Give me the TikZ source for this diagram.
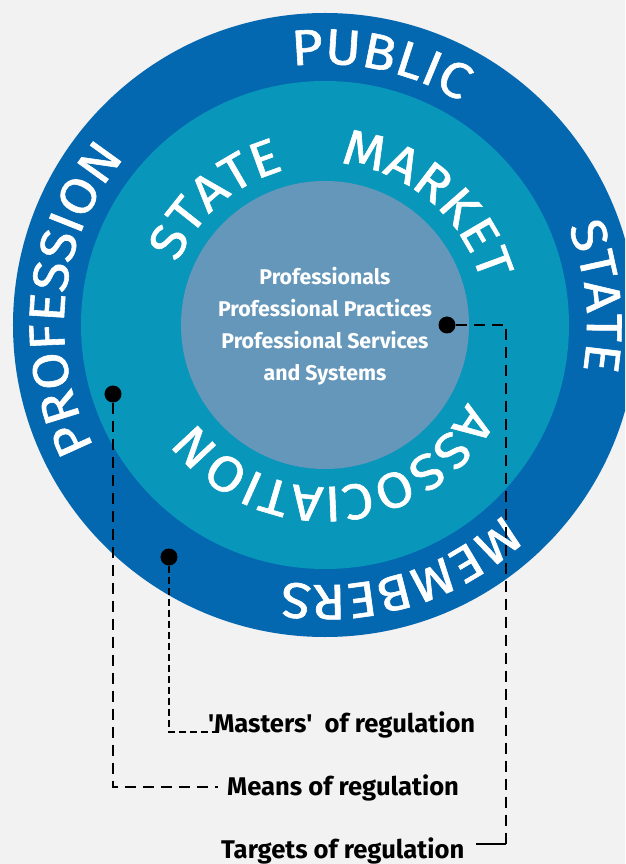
\documentclass[tikz,border=0pt]{standalone}
\usepackage{fontspec}
\setmainfont{Fira Sans}
\newfontfamily\ringfont[FakeStretch=1.09,FakeBold=1.2]{Fira Sans}
\usetikzlibrary{decorations.text,calc}
\definecolor{bgc}{HTML}{F2F2F2}
\definecolor{outerc}{HTML}{0468B1}
\definecolor{midc}{HTML}{0896BA}
\definecolor{innerc}{HTML}{6497BA}
\newcommand\ringword[4]{%
  \path[ringtext={#4}] (#1+#2:#3) arc[start angle=#1+#2, end angle=#1-#2, radius=#3];}
\begin{document}
\begin{tikzpicture}[x=1pt,y=1pt,
  ringtext/.style={decorate, decoration={text along path, text align=center,
     text color=white, text={|\ringfont\fontsize{50}{54}\selectfont|#1}}},
  disc/.style={circle, inner sep=0pt, minimum size=#1},
  dot/.style={circle, fill=black, minimum size=17pt, inner sep=0pt},
  reglabel/.style={font=\bfseries\fontsize{25.6}{30}\selectfont, anchor=base west, inner sep=0pt},
  conn/.style={line width=2.6pt, dash pattern=on 11pt off 7pt},
  connfine/.style={line width=2.4pt, dash pattern=on 7pt off 4pt}
]
\useasboundingbox[fill=bgc] (-325,-539) rectangle (300,325);
\clip (-325,-539) rectangle (300,325);
\node[disc=624pt, fill=outerc] (outer) at (0,0) {};
\node[disc=488pt, fill=midc] (middle) at (0,0) {};
\node[disc=288pt, fill=innerc] (inner) at (0,0) {};
% ring words
\ringword{78}{50}{261}{PUBLIC}
\ringword{6}{45}{262}{STATE}
\ringword{-73}{50}{260}{MEMBERS}
\ringword{174}{60}{261}{PROFESSION}
\ringword{131}{55}{160}{STATE}
\ringword{50}{60}{162}{MARKET}
\ringword{-86}{85}{162}{ASSOCIATION}
% core text
\node[align=center, text=white, font=\bfseries\fontsize{21.3}{32}\selectfont] (core) at (0,-1)
  {Professionals\\Professional Practices\\Professional Services\\and Systems};
% dots
\node[dot] (tdot) at (122,0) {};
\node[dot] (mdot) at (-212,-69) {};
\node[dot] (kdot) at (-156,-232) {};
% labels
\node[reglabel] (klabel) at (-117,-407) {\textquotesingle Masters\textquotesingle\ \ of regulation};
\node[reglabel] (mlabel) at (-98,-470) {Means of regulation};
\node[reglabel] (tlabel) at (-104,-533) {Targets of regulation};
% connectors
\coordinate (tc) at (181,-519);
\draw[conn] (tdot) -| (tc);
\draw[line width=2.6pt] (tc) -- ($(tlabel.east |- tc)+(11,0)$);
\draw[conn] (mdot) |- ($(mlabel.base west)+(-9,8)$);
\draw[connfine] (kdot) |- ($(klabel.base west)+(13,0)$);
\end{tikzpicture}
\end{document}
